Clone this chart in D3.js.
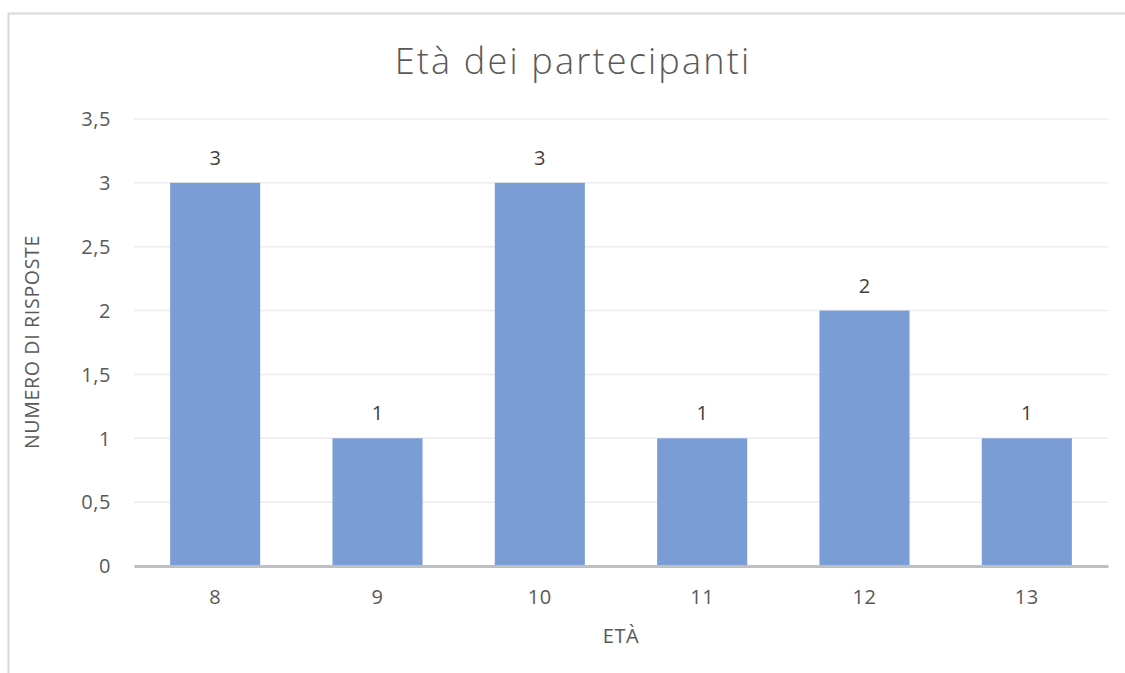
<!DOCTYPE html>
<html>
<head>
<meta charset="utf-8">
<script src="https://cdn.jsdelivr.net/npm/d3@7"></script>
<style>
  html, body { margin: 0; padding: 0; background: #fff; }
  svg { display: block; font-family: "Open Sans", "Lato", sans-serif; }
</style>
</head>
<body>
<svg id="chart" width="1125" height="673"></svg>
<script>
const categories = ["8", "9", "10", "11", "12", "13"];
const values = [3, 1, 3, 1, 2, 1];
const yTicks = [0, 0.5, 1, 1.5, 2, 2.5, 3, 3.5];
const chartTitle = "Età dei partecipanti";
const xTitle = "ETÀ";
const yTitle = "NUMERO DI RISPOSTE";

const svg = d3.select("#chart");
const W = 1125, H = 673;
const margin = { left: 134, right: 17, top: 119, bottom: 107 };
const plotW = W - margin.left - margin.right;
const plotH = H - margin.top - margin.bottom;
const textColor = "#595959";

// chart frame
svg.append("path")
  .attr("d", `M8.5,${H} V13.5 H${W}`)
  .attr("fill", "none")
  .attr("stroke", "#d9d9d9")
  .attr("stroke-width", 2);

const x = d3.scaleBand().domain(categories).range([0, plotW]).paddingInner(0.445).paddingOuter(0.2225);
const y = d3.scaleLinear().domain([0, 3.5]).range([plotH, 0]);

const g = svg.append("g").attr("transform", `translate(${margin.left},${margin.top})`);

// gridlines
g.append("g")
  .selectAll("line")
  .data(yTicks.filter(t => t > 0))
  .join("line")
  .attr("x1", 0).attr("x2", plotW)
  .attr("y1", d => y(d)).attr("y2", d => y(d))
  .attr("stroke", "#ececec")
  .attr("stroke-width", 1.5);

// y axis labels
const fmt = d => String(d).replace(".", ",");
const yAxis = g.append("g")
  .call(d3.axisLeft(y).tickValues(yTicks).tickFormat(fmt).tickSize(0).tickPadding(23));
yAxis.select(".domain").remove();
yAxis.selectAll("text")
  .attr("fill", textColor)
  .attr("dy", "0.34em")
  .style("font-size", "20px")
  .style("letter-spacing", "0.6px")
  .style("font-family", "'Open Sans', sans-serif");

// bars
g.append("g")
  .selectAll("rect")
  .data(values)
  .join("rect")
  .attr("x", (d, i) => x(categories[i]))
  .attr("y", d => y(d))
  .attr("width", x.bandwidth())
  .attr("height", d => plotH - y(d))
  .attr("fill", "#7b9dd5");

// data labels
g.append("g")
  .selectAll("text")
  .data(values)
  .join("text")
  .attr("x", (d, i) => x(categories[i]) + x.bandwidth() / 2)
  .attr("y", d => y(d) - 18)
  .attr("text-anchor", "middle")
  .attr("fill", "#404040")
  .style("font-size", "20px")
  .text(d => d);

// x axis
const xAxis = g.append("g")
  .attr("transform", `translate(0,${plotH})`)
  .call(d3.axisBottom(x).tickSize(0).tickPadding(0));
xAxis.select(".domain")
  .attr("stroke", "#bfbfbf")
  .attr("stroke-width", 3);
xAxis.selectAll("text")
  .attr("y", 38)
  .attr("dy", 0)
  .attr("fill", textColor)
  .style("font-size", "20px")
  .style("letter-spacing", "0.6px")
  .style("font-family", "'Open Sans', sans-serif");

// axis titles
svg.append("text")
  .attr("x", margin.left + plotW / 2)
  .attr("y", 643)
  .attr("text-anchor", "middle")
  .attr("fill", textColor)
  .style("font-size", "20px")
  .style("letter-spacing", "0.5px")
  .text(xTitle);

svg.append("text")
  .attr("transform", `translate(39,${342}) rotate(-90)`)
  .attr("text-anchor", "middle")
  .attr("fill", textColor)
  .style("font-size", "19.5px")
  .style("letter-spacing", "0.7px")
  .text(yTitle);

// chart title
svg.append("text")
  .attr("x", 573)
  .attr("y", 74)
  .attr("text-anchor", "middle")
  .attr("fill", textColor)
  .style("font-size", "36px")
  .style("font-weight", 300)
  .style("letter-spacing", "2.2px")
  .text(chartTitle);
</script>
</body>
</html>
